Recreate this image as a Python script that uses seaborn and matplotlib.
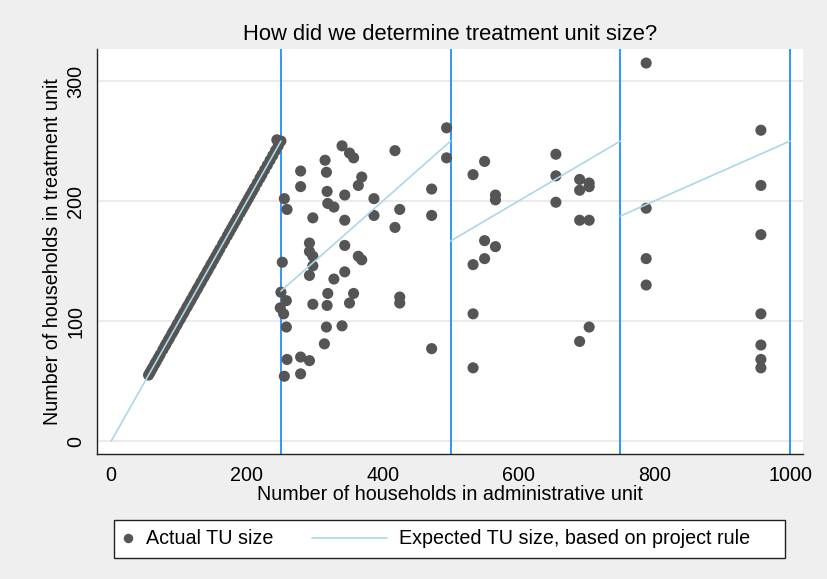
import numpy as np
import pandas as pd
import matplotlib
matplotlib.use("Agg")
import matplotlib.pyplot as plt
import seaborn as sns
from matplotlib.lines import Line2D
from matplotlib.patches import Rectangle
from matplotlib.legend_handler import HandlerLine2D

# -------------------------------
# Data
# -------------------------------
# admin units below 250 households: treatment unit = whole admin unit
diag_admin = [55, 57, 59, 61, 64, 66, 69, 72, 76, 79, 81, 84, 86, 89, 91, 93, 96, 98,
              101, 103, 106, 108, 111, 113, 116, 118, 121, 123, 126, 128, 131, 133, 136,
              138, 141, 143, 146, 148, 151, 154, 157, 160, 164, 167, 171, 174, 177, 180,
              183, 186, 190, 193, 196, 199, 202, 205, 208, 211, 215, 219, 222, 226, 230,
              234, 238, 242, 244, 246, 250]
diag_tu = [55, 57, 59, 61, 64, 66, 69, 72, 76, 79, 81, 84, 86, 89, 91, 93, 96, 98,
           101, 103, 106, 108, 111, 113, 116, 118, 121, 123, 126, 128, 131, 133, 136,
           138, 141, 143, 146, 148, 151, 154, 157, 160, 164, 167, 171, 174, 177, 180,
           183, 186, 190, 193, 196, 199, 202, 205, 208, 211, 215, 219, 222, 226, 230,
           234, 238, 242, 251, 246, 250]

split_admin = [255, 259, 252, 250, 258, 249, 254, 258, 259, 255,
               279, 279, 279, 279, 292,
               297, 292, 292, 297, 297, 292, 297,
               315, 317, 318, 319, 328, 328, 319, 318, 317, 314,
               340, 351, 357, 369, 364, 344, 344, 344, 364, 369, 344, 357, 351, 340,
               387, 387,
               418, 425, 418, 425, 425,
               472, 472, 472,
               494, 494,
               533, 550, 566, 566, 550, 566, 550, 533, 533, 533,
               655, 655, 655,
               690, 704, 704, 690, 690, 704, 704, 690,
               788, 788, 788, 788,
               957, 957, 957, 957, 957, 957, 957]
split_tu = [202, 193, 149, 124, 117, 111, 106, 95, 68, 54,
            225, 212, 70, 56, 67,
            186, 165, 158, 154, 146, 138, 114,
            234, 224, 208, 198, 195, 135, 123, 113, 95, 81,
            246, 240, 236, 220, 213, 205, 184, 163, 154, 151, 141, 123, 115, 96,
            202, 188,
            242, 193, 178, 120, 115,
            210, 188, 77,
            261, 236,
            222, 233, 205, 201, 167, 162, 152, 147, 106, 61,
            239, 221, 199,
            218, 215, 212, 209, 184, 184, 95, 83,
            315, 194, 152, 130,
            259, 213, 172, 106, 80, 68, 61]

# expected TU size under the project rule (one segment per split count)
rule_admin = [0, 250, 250, 500, 500, 750, 750, 1000]
rule_tu = [0, 250, 125, 250, 166.7, 250, 187.5, 250]
rule_seg = [1, 1, 2, 2, 3, 3, 4, 4]

cutoffs = [250, 500, 750, 1000]
x_ticks = [0, 200, 400, 600, 800, 1000]
y_ticks = [0, 100, 200, 300]

points = pd.DataFrame({"admin": diag_admin + split_admin, "tu": diag_tu + split_tu})
rule = pd.DataFrame({"admin": rule_admin, "tu": rule_tu, "seg": rule_seg})

# -------------------------------
# Style
# -------------------------------
sns.set_style("white")
plt.rcParams["font.family"] = ["Liberation Sans", "DejaVu Sans"]
plt.rcParams["text.color"] = "black"
plt.rcParams["axes.labelcolor"] = "black"
plt.rcParams["xtick.color"] = "black"
plt.rcParams["ytick.color"] = "black"

BG = "#efefef"
DOT = "#555555"
RULE = "#a9d8e8"
CUT = "#1f8fff"
FS = 14.2

fig = plt.figure(figsize=(8.28, 5.79), dpi=100, facecolor=BG)
ax = fig.add_axes([97.5 / 828, 1 - 454 / 579, (803 - 97.5) / 828, (454 - 49) / 579])
ax.set_facecolor("white")

for yt in y_ticks:
    ax.axhline(yt, color="#e6e6e6", lw=1.1, zorder=0)
for c in cutoffs:
    ax.axvline(c, color=CUT, lw=1.3, zorder=1)

sns.scatterplot(data=points, x="admin", y="tu", color=DOT, s=64, edgecolor="none",
                legend=False, ax=ax, zorder=2)
sns.lineplot(data=rule, x="admin", y="tu", units="seg", estimator=None, sort=False,
             color=RULE, lw=1.2, legend=False, ax=ax, zorder=3)

ax.set_xlim(-20.2, 1019)
ax.set_ylim(-10.8, 326.7)
ax.set_xticks(x_ticks)
ax.set_yticks(y_ticks)
ax.tick_params(axis="both", direction="out", length=5.8, width=0.8, color="#222222",
               labelcolor="black", labelsize=FS, pad=3)
for lab in ax.get_yticklabels():
    lab.set_rotation(90)
    lab.set_va("center")

for side in ["top", "right"]:
    ax.spines[side].set_visible(False)
for side in ["left", "bottom"]:
    ax.spines[side].set_color("#222222")
    ax.spines[side].set_linewidth(1.0)

ax.set_xlabel("Number of households in administrative unit", fontsize=FS, color="black")
ax.set_ylabel("Number of households in treatment unit", fontsize=FS, color="black")
ax.xaxis.label.set_va("center")
ax.yaxis.label.set_va("center")
ax.xaxis.set_label_coords(0.5, (454 - 495) / 405)
ax.yaxis.set_label_coords((53 - 97.5) / 705.5, 0.5)

ax.text(0.5, (454 - 35) / 405, "How did we determine treatment unit size?",
        transform=ax.transAxes, ha="center", va="center", fontsize=15.8, color="black")


# -------------------------------
# Legend (Stata style box under the plot)
# -------------------------------
class LongLine(HandlerLine2D):
    def create_artists(self, legend, orig_handle, xdescent, ydescent, width, height,
                       fontsize, trans):
        y = (height - ydescent) / 2
        line = Line2D([-3.0 * width, 0.82 * width], [y, y])
        self.update_prop(line, orig_handle, legend)
        line.set_transform(trans)
        return [line]


fig.add_artist(Rectangle((114.3 / 828, 1 - 557.7 / 579), (785 - 114.3) / 828, 38 / 579,
                         transform=fig.transFigure, facecolor="white",
                         edgecolor="#222222", lw=1.0))

h_dot = Line2D([], [], marker="o", ls="", color=DOT, markersize=5.8)
h_line = Line2D([], [], color=RULE, lw=1.2)
leg = fig.legend([h_dot, h_line],
                 ["Actual TU size", "Expected TU size, based on project rule"],
                 handler_map={h_line: LongLine()},
                 loc="center left", bbox_to_anchor=(117.8 / 828, 1 - 539 / 579),
                 ncol=2, frameon=False, fontsize=FS, handlelength=1.0,
                 handletextpad=0.42, columnspacing=4.96, borderpad=0, borderaxespad=0)
for t in leg.get_texts():
    t.set_color("black")

fig.savefig("out.png", dpi=100, facecolor=BG)
